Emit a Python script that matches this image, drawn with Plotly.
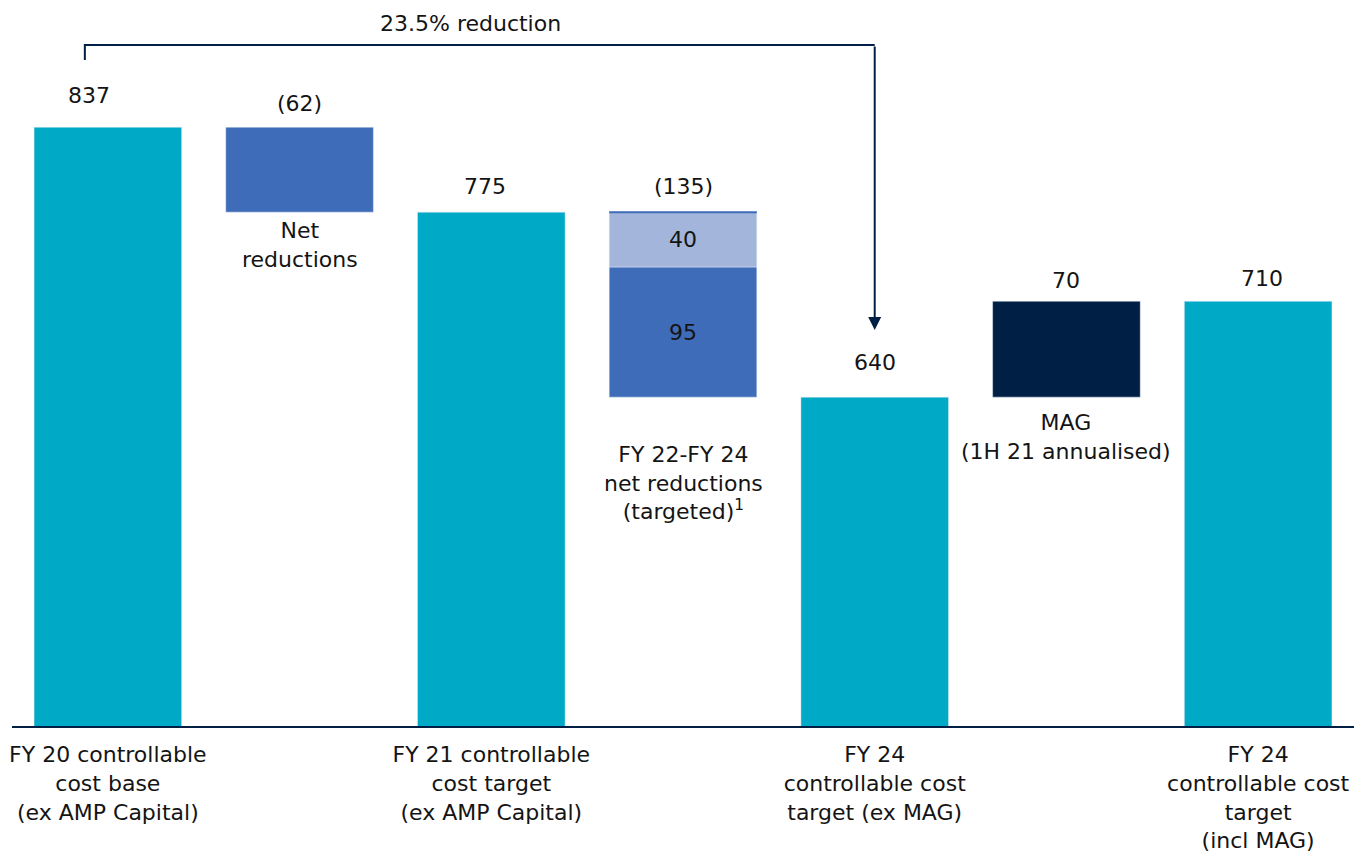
import plotly.graph_objects as go

# datos del gráfico (A$m)
categorias = [
    "FY 20 controllable<br>cost base<br>(ex AMP Capital)",
    "",
    "FY 21 controllable<br>cost target<br>(ex AMP Capital)",
    "",
    "FY 24<br>controllable cost<br>target (ex MAG)",
    "",
    "FY 24<br>controllable cost<br>target<br>(incl MAG)",
]
totales_x = [0, 2, 4, 6]
totales = [837, 775, 640, 710]
reduccion_1 = 62
reduccion_2a = 95
reduccion_2b = 40
mag = 70
texto_reduccion = "23.5% reduction"

TEAL = "#00AAC7"
AZUL = "#3F6CB9"
AZUL_CLARO = "#A3B5DB"
NAVY = "#001F44"
TXT = "#141414"
FUENTE = "DejaVu Sans"
TAM = 22
ANCHO = 0.77

fig = go.Figure()

fig.add_trace(go.Bar(x=totales_x, y=totales, width=ANCHO, marker_color=TEAL, hoverinfo="skip"))
fig.add_trace(go.Bar(x=[1], y=[reduccion_1], base=[totales[1]], width=ANCHO,
                     marker_color=AZUL, hoverinfo="skip"))
fig.add_trace(go.Bar(
    x=[3], y=[reduccion_2a], base=[totales[2]], width=ANCHO, marker_color=AZUL,
    text=[str(reduccion_2a)], textposition="inside", insidetextanchor="middle",
    textfont=dict(color=TXT, size=TAM, family=FUENTE), hoverinfo="skip"
))
fig.add_trace(go.Bar(
    x=[3], y=[reduccion_2b], base=[totales[2] + reduccion_2a], width=ANCHO,
    marker_color=AZUL_CLARO,
    text=[str(reduccion_2b)], textposition="inside", insidetextanchor="middle",
    textfont=dict(color=TXT, size=TAM, family=FUENTE), hoverinfo="skip"
))
fig.add_trace(go.Bar(x=[5], y=[mag], base=[totales[2]], width=ANCHO,
                     marker_color=NAVY, hoverinfo="skip"))

# línea superior del bloque (135)
fig.add_shape(type="line", x0=3 - ANCHO / 2, x1=3 + ANCHO / 2, y0=totales[1], y1=totales[1],
              line=dict(color=AZUL, width=2))

anots = []
# etiquetas de valor
etiquetas = [
    (0, totales[0], str(totales[0]), 17, -19),
    (1, totales[0], f"({reduccion_1})", 9, 0),
    (2, totales[1], str(totales[1]), 11, -6),
    (3, totales[1], f"({reduccion_2a + reduccion_2b})", 11, 0),
    (4, totales[2], str(totales[2]), 20, 0),
    (5, totales[2] + mag, str(mag), 6, 0),
    (6, totales[3], str(totales[3]), 8, 4),
]
for x, y, t, ys, xs in etiquetas:
    anots.append(dict(x=x, y=y, text=t, showarrow=False, yanchor="bottom",
                      yshift=ys, xshift=xs, font=dict(size=TAM, color=TXT, family=FUENTE)))

# etiquetas bajo barras flotantes
for x, y, t, ys in [
    (1, totales[1], "Net<br>reductions", -4),
    (3, totales[2], "FY 22-FY 24<br>net reductions<br>(targeted)<sup>1</sup>", -43),
    (5, totales[2], "MAG<br>(1H 21 annualised)", -11),
]:
    anots.append(dict(x=x, y=y, text=t, showarrow=False, yanchor="top", yshift=ys,
                      font=dict(size=TAM, color=TXT, family=FUENTE)))

# flecha de reducción
anots.append(dict(x=4, y=689, ax=4, ay=897, axref="x", ayref="y", xref="x", yref="y",
                  showarrow=True, arrowhead=2, arrowsize=1.3, arrowwidth=2,
                  arrowcolor=NAVY, text=""))
anots.append(dict(x=1.89, y=897, text=texto_reduccion, showarrow=False, yanchor="bottom",
                  yshift=7, font=dict(size=TAM, color=TXT, family=FUENTE)))
fig.add_shape(type="path", path="M -0.12 886 L -0.12 897 L 4 897",
              line=dict(color=NAVY, width=2))

fig.update_layout(
    barmode="overlay",
    showlegend=False,
    width=1356, height=850,
    margin=dict(l=4, r=10, t=0, b=132),
    plot_bgcolor="white", paper_bgcolor="white",
    font=dict(family=FUENTE, size=TAM, color=TXT),
    annotations=anots,
    xaxis=dict(
        range=[-0.5, 6.5], tickvals=list(range(7)), ticktext=categorias,
        showline=True, linecolor=NAVY, linewidth=2, showgrid=False,
        ticks="", ticklabelstandoff=8,
        tickfont=dict(size=TAM, color=TXT, family=FUENTE), zeroline=False
    ),
    yaxis=dict(range=[400, 924], visible=False, showgrid=False, zeroline=False),
)

fig.write_html("out.html")
